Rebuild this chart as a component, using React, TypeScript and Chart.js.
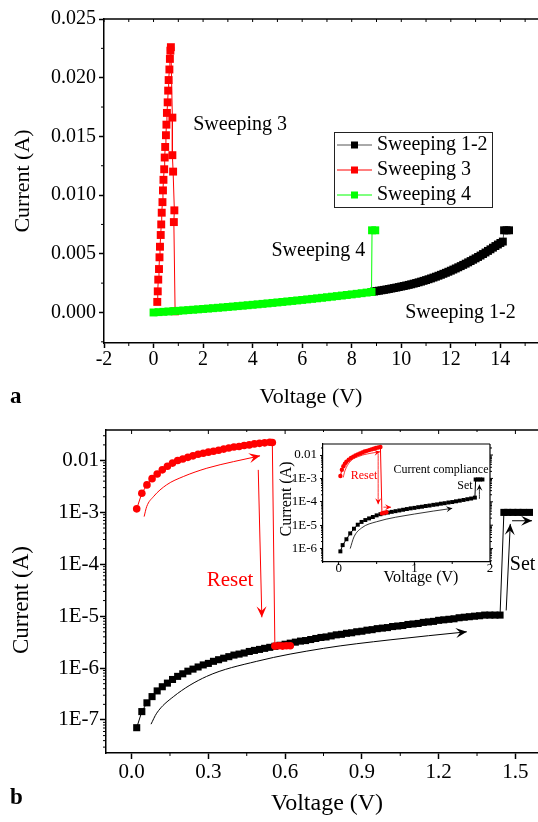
import React, { useEffect, useRef } from "react";
import { Chart, registerables } from "chart.js";

Chart.register(...registerables);

const SERIF = "'Liberation Serif', 'Times New Roman', Times, serif";
const RED = "#ff0000";
const GREEN = "#00ff00";
const BLACK = "#000000";

/* ================= Panel a (linear) ================= */
const aXTickValues = [-2, 0, 2, 4, 6, 8, 10, 12, 14];
const aXTickLabels = ["-2", "0", "2", "4", "6", "8", "10", "12", "14"];
const aXMinorValues = [-1, 1, 3, 5, 7, 9, 11, 13, 15];
const aYTickValues = [0, 0.005, 0.01, 0.015, 0.02, 0.025];
const aYTickLabels = ["0.000", "0.005", "0.010", "0.015", "0.020", "0.025"];
const aYMinorValues = [-0.0025, 0.0025, 0.0075, 0.0125, 0.0175, 0.0225];
const aSeriesNames = ["Sweeping 1-2", "Sweeping 3", "Sweeping 4"];

const sweep12V = [8.8, 8.9, 9.0, 9.1, 9.2, 9.3, 9.4, 9.5, 9.6, 9.7, 9.8, 9.9, 10.0, 10.1, 10.2, 10.3, 10.4, 10.5, 10.6, 10.7, 10.8, 10.9, 11.0, 11.1, 11.2, 11.3, 11.4, 11.5, 11.6, 11.7, 11.8, 11.9, 12.0, 12.1, 12.2, 12.3, 12.4, 12.5, 12.6, 12.7, 12.8, 12.9, 13.0, 13.1, 13.2, 13.3, 13.4, 13.5, 13.6, 13.7, 13.8, 13.9, 14.0, 14.1, 14.15, 14.25, 14.35];
const sweep12I = [0.00175, 0.001785, 0.00182, 0.001855, 0.00189, 0.001925, 0.00196, 0.002, 0.00204, 0.00208, 0.00212, 0.002165, 0.00221, 0.002255, 0.0023, 0.00235, 0.0024, 0.002455, 0.00251, 0.00257, 0.00263, 0.002695, 0.00276, 0.00283, 0.0029, 0.002975, 0.00305, 0.00313, 0.00321, 0.003295, 0.00338, 0.00347, 0.00356, 0.003655, 0.00375, 0.00385, 0.00395, 0.004055, 0.00416, 0.00427, 0.00438, 0.004495, 0.00461, 0.00473, 0.00485, 0.00498, 0.00511, 0.005245, 0.00538, 0.00552, 0.00566, 0.00579, 0.00592, 0.00604, 0.007, 0.007, 0.007];

const sweep3V = [0.15, 0.17, 0.19, 0.22, 0.24, 0.26, 0.29, 0.31, 0.33, 0.36, 0.38, 0.4, 0.43, 0.45, 0.47, 0.5, 0.52, 0.54, 0.57, 0.59, 0.61, 0.64, 0.66, 0.68, 0.7, 0.76, 0.76, 0.79, 0.84, 0.82, 0.87];
const sweep3I = [0.0009, 0.0018, 0.0028, 0.0037, 0.0047, 0.0056, 0.0066, 0.0075, 0.0085, 0.0094, 0.0104, 0.0113, 0.0122, 0.0132, 0.0141, 0.0151, 0.016, 0.017, 0.0179, 0.0189, 0.0198, 0.0207, 0.0216, 0.0223, 0.0226, 0.0166, 0.0134, 0.012, 0.0087, 0.0077, 0.0001];

const sweep4V = [0, 0.2, 0.4, 0.6, 0.8, 1.0, 1.2, 1.4, 1.6, 1.8, 2.0, 2.2, 2.4, 2.6, 2.8, 3.0, 3.2, 3.4, 3.6, 3.8, 4.0, 4.2, 4.4, 4.6, 4.8, 5.0, 5.2, 5.4, 5.6, 5.8, 6.0, 6.2, 6.4, 6.6, 6.8, 7.0, 7.2, 7.4, 7.6, 7.8, 8.0, 8.2, 8.4, 8.6, 8.8, 8.82, 8.95];
const sweep4I = [0, 0.00003, 0.000055, 0.000084, 0.000113, 0.000142, 0.000172, 0.000203, 0.000234, 0.000266, 0.000299, 0.000332, 0.000366, 0.0004, 0.000434, 0.00047, 0.000506, 0.000542, 0.000579, 0.000617, 0.000655, 0.000694, 0.000733, 0.000773, 0.000814, 0.000855, 0.000897, 0.000939, 0.000982, 0.001025, 0.001069, 0.001114, 0.001159, 0.001205, 0.001251, 0.001298, 0.001345, 0.001393, 0.001442, 0.001491, 0.001541, 0.001591, 0.001642, 0.001694, 0.001746, 0.007, 0.007];

/* ================= Panel b (log) ================= */
const bXTickValues = [0, 0.3, 0.6, 0.9, 1.2, 1.5];
const bXTickLabels = ["0.0", "0.3", "0.6", "0.9", "1.2", "1.5"];
const bXMinorValues = [0.15, 0.45, 0.75, 1.05, 1.35];
const bYTickValues = [1e-7, 1e-6, 1e-5, 1e-4, 1e-3, 1e-2];
const bYTickLabels = ["1E-7", "1E-6", "1E-5", "1E-4", "1E-3", "0.01"];

const setV = [0.02, 0.04, 0.06, 0.08, 0.1, 0.12, 0.14, 0.16, 0.18, 0.2, 0.22, 0.24, 0.26, 0.28, 0.3, 0.32, 0.34, 0.36, 0.38, 0.4, 0.42, 0.44, 0.46, 0.48, 0.5, 0.52, 0.54, 0.56, 0.58, 0.6, 0.62, 0.64, 0.66, 0.68, 0.7, 0.72, 0.74, 0.76, 0.78, 0.8, 0.82, 0.84, 0.86, 0.88, 0.9, 0.92, 0.94, 0.96, 0.98, 1.0, 1.02, 1.04, 1.06, 1.08, 1.1, 1.12, 1.14, 1.16, 1.18, 1.2, 1.22, 1.24, 1.26, 1.28, 1.3, 1.32, 1.34, 1.36, 1.38, 1.4, 1.42, 1.44, 1.455, 1.47, 1.49, 1.51, 1.53, 1.555];
const setI = [7.1e-8, 1.45e-7, 2.14e-7, 2.82e-7, 3.63e-7, 4.37e-7, 5.13e-7, 6.03e-7, 6.92e-7, 7.76e-7, 8.71e-7, 9.55e-7, 1.05e-6, 1.15e-6, 1.23e-6, 1.35e-6, 1.45e-6, 1.55e-6, 1.66e-6, 1.78e-6, 1.86e-6, 1.95e-6, 2.09e-6, 2.19e-6, 2.29e-6, 2.4e-6, 2.51e-6, 2.63e-6, 2.75e-6, 2.88e-6, 3.02e-6, 3.16e-6, 3.31e-6, 3.39e-6, 3.55e-6, 3.72e-6, 3.89e-6, 3.98e-6, 4.17e-6, 4.37e-6, 4.47e-6, 4.68e-6, 4.79e-6, 5.01e-6, 5.13e-6, 5.37e-6, 5.5e-6, 5.75e-6, 5.89e-6, 6.03e-6, 6.31e-6, 6.46e-6, 6.61e-6, 6.92e-6, 7.08e-6, 7.24e-6, 7.59e-6, 7.76e-6, 7.94e-6, 8.32e-6, 8.51e-6, 8.71e-6, 8.91e-6, 9.33e-6, 9.55e-6, 9.77e-6, 1.0e-5, 1.02e-5, 1.05e-5, 1.05e-5, 1.05e-5, 1.05e-5, 1e-3, 1e-3, 1e-3, 1e-3, 1e-3, 1e-3];

const resetV = [0.02, 0.04, 0.06, 0.08, 0.1, 0.12, 0.14, 0.16, 0.18, 0.2, 0.22, 0.24, 0.26, 0.28, 0.3, 0.32, 0.34, 0.36, 0.38, 0.4, 0.42, 0.44, 0.46, 0.48, 0.5, 0.52, 0.54, 0.55, 0.56, 0.575, 0.59, 0.605, 0.62];
const resetI = [1.17e-3, 2.34e-3, 3.39e-3, 4.47e-3, 5.5e-3, 6.61e-3, 7.76e-3, 8.91e-3, 1.0e-2, 1.07e-2, 1.15e-2, 1.23e-2, 1.32e-2, 1.38e-2, 1.45e-2, 1.51e-2, 1.58e-2, 1.66e-2, 1.74e-2, 1.82e-2, 1.86e-2, 1.95e-2, 2.0e-2, 2.09e-2, 2.14e-2, 2.19e-2, 2.24e-2, 2.22e-2, 2.65e-6, 2.7e-6, 2.65e-6, 2.7e-6, 2.7e-6];

// annotation arrows (panel b)
const bResetCurveV = [0.049, 0.059, 0.085, 0.137, 0.202, 0.294, 0.398, 0.502];
const bResetCurveI = [8.3e-4, 1.29e-3, 2.0e-3, 3.4e-3, 4.9e-3, 7.1e-3, 9.5e-3, 1.23e-2];
const bResetDropV = [0.495, 0.509];
const bResetDropI = [6.6e-3, 9.5e-6];
const bSetCurveV = [0.076, 0.098, 0.163, 0.293, 0.489, 0.75, 1.01, 1.31];
const bSetCurveI = [8.3e-8, 1.35e-7, 2.8e-7, 6.9e-7, 1.35e-6, 2.4e-6, 3.5e-6, 5.0e-6];
const bSetJumpV = [1.464, 1.48];
const bSetJumpI = [1.29e-5, 6.0e-4];
const bSetRightV = [1.487, 1.565];
const bSetRightI = [6.9e-4, 6.9e-4];

/* ================= Inset (log) ================= */
const insXTickValues = [0, 1, 2];
const insXTickLabels = ["0", "1", "2"];
const insXMinorValues = [0.5, 1.5];
const insYTickValues = [1e-6, 1e-5, 1e-4, 1e-3, 1e-2];
const insYTickLabels = ["1E-6", "1E-5", "1E-4", "1E-3", "0.01"];

const insSetV = [0.02, 0.05, 0.1, 0.15, 0.2, 0.25, 0.3, 0.35, 0.4, 0.45, 0.5, 0.55, 0.6, 0.65, 0.7, 0.75, 0.8, 0.85, 0.9, 0.95, 1.0, 1.05, 1.1, 1.15, 1.2, 1.25, 1.3, 1.35, 1.4, 1.45, 1.5, 1.55, 1.6, 1.65, 1.7, 1.75, 1.8, 1.81, 1.84, 1.87, 1.9];
const insSetI = [7.6e-7, 1.41e-6, 2.51e-6, 4.47e-6, 7.08e-6, 1.05e-5, 1.38e-5, 1.66e-5, 1.95e-5, 2.24e-5, 2.63e-5, 2.95e-5, 3.24e-5, 3.47e-5, 3.72e-5, 3.98e-5, 4.27e-5, 4.57e-5, 4.9e-5, 5.25e-5, 5.5e-5, 5.89e-5, 6.17e-5, 6.61e-5, 6.92e-5, 7.41e-5, 7.76e-5, 8.32e-5, 8.71e-5, 9.33e-5, 9.77e-5, 1.05e-4, 1.12e-4, 1.2e-4, 1.29e-4, 1.38e-4, 1.51e-4, 9e-4, 9e-4, 9e-4, 9e-4];

const insResetV = [0.02, 0.04, 0.06, 0.08, 0.1, 0.13, 0.16, 0.19, 0.22, 0.25, 0.28, 0.31, 0.34, 0.37, 0.4, 0.43, 0.46, 0.49, 0.52, 0.55, 0.57, 0.6, 0.63];
const insResetI = [1.26e-3, 2.34e-3, 3.31e-3, 4.27e-3, 5.13e-3, 6.31e-3, 7.41e-3, 8.51e-3, 9.55e-3, 1.07e-2, 1.17e-2, 1.29e-2, 1.41e-2, 1.51e-2, 1.62e-2, 1.74e-2, 1.86e-2, 2.0e-2, 2.09e-2, 2.19e-2, 3.2e-5, 3.4e-5, 3.6e-5];

const insResetCurveV = [0.057, 0.08, 0.146, 0.28, 0.41, 0.545];
const insResetCurveI = [1.1e-3, 2.1e-3, 5.1e-3, 9.1e-3, 1.17e-2, 1.38e-2];
const insResetDropV = [0.52, 0.52];
const insResetDropI = [1.17e-2, 7.9e-5];
const insResetRightV = [0.59, 0.69];
const insResetRightI = [5.9e-5, 5.9e-5];
const insSetCurveV = [0.15, 0.2, 0.3, 0.5, 1.0, 1.5];
const insSetCurveI = [1.0e-6, 3.16e-6, 7.6e-6, 1.41e-5, 3.0e-5, 5.25e-5];
const insSetJumpV = [1.86, 1.86];
const insSetJumpI = [1.32e-4, 5.4e-4];

/* ================= helpers ================= */
const pts = (xs: number[], ys: number[]) => xs.map((x, i) => ({ x, y: ys[i] }));

function seg(ctx: any, x1: number, y1: number, x2: number, y2: number) {
  ctx.beginPath();
  ctx.moveTo(x1, y1);
  ctx.lineTo(x2, y2);
  ctx.stroke();
}

function txt(ctx: any, s: string, x: number, y: number, size: number, o: any = {}) {
  ctx.save();
  ctx.font = `${o.bold ? "bold " : ""}${size}px ${SERIF}`;
  ctx.fillStyle = o.color || BLACK;
  ctx.textAlign = o.align || "center";
  ctx.textBaseline = "middle";
  ctx.translate(x, y);
  if (o.rotate) ctx.rotate(o.rotate);
  ctx.fillText(s, 0, 0);
  ctx.restore();
}

function logMinors(min: number, max: number) {
  const out: number[] = [];
  for (let d = Math.floor(Math.log10(min)); d <= Math.ceil(Math.log10(max)); d++) {
    for (let k = 2; k <= 9; k++) {
      const v = k * Math.pow(10, d);
      if (v >= min && v <= max) out.push(v);
    }
  }
  return out;
}

function drawHead(ctx: any, tx: number, ty: number, dx: number, dy: number, len: number, half: number, color: string) {
  const L = Math.hypot(dx, dy) || 1;
  const ux = dx / L, uy = dy / L;
  const px = -uy, py = ux;
  const bx = tx - ux * len, by = ty - uy * len;
  ctx.save();
  ctx.fillStyle = color;
  ctx.beginPath();
  ctx.moveTo(tx, ty);
  ctx.lineTo(bx + px * half, by + py * half);
  ctx.lineTo(tx - ux * len * 0.6, ty - uy * len * 0.6);
  ctx.lineTo(bx - px * half, by - py * half);
  ctx.closePath();
  ctx.fill();
  ctx.restore();
}

const arrowPlugin = {
  id: "arrowHeads",
  afterDatasetsDraw(chart: any) {
    const ctx = chart.ctx;
    chart.data.datasets.forEach((ds: any, i: number) => {
      if (!ds.arrowHead) return;
      const p = chart.getDatasetMeta(i).data;
      if (p.length < 2) return;
      const b = p[p.length - 1];
      const a = p[p.length - 2];
      let dx = b.x - a.x, dy = b.y - a.y;
      if (b.cp1x !== undefined && Math.hypot(b.x - b.cp1x, b.y - b.cp1y) > 0.5) {
        dx = b.x - b.cp1x;
        dy = b.y - b.cp1y;
      }
      drawHead(ctx, b.x, b.y, dx, dy, ds.arrowHead.len, ds.arrowHead.half, ds.borderColor);
    });
  },
};

const dataSet = (label: string, d: any[], line: string, fill: string, style: string, r: number) => ({
  label,
  data: d,
  borderColor: line,
  backgroundColor: fill,
  borderWidth: 1,
  pointStyle: style,
  pointRadius: r,
  pointBorderWidth: 0,
  pointBackgroundColor: fill,
  pointHoverRadius: r,
  fill: false,
});

const arrowSet = (d: any[], color: string, w: number, head: any) => ({
  label: "",
  data: d,
  borderColor: color,
  borderWidth: w,
  pointRadius: 0,
  pointHoverRadius: 0,
  cubicInterpolationMode: "monotone",
  fill: false,
  arrowHead: head,
});

const axisCommon = (size: number, pad: number, tickLen: number, lw: number) => ({
  grid: { display: true, drawOnChartArea: false, drawTicks: true, tickLength: tickLen, tickWidth: lw, tickColor: BLACK },
  border: { display: true, color: BLACK, width: lw },
  ticks: { autoSkip: false, maxRotation: 0, minRotation: 0, color: BLACK, padding: pad, font: { family: SERIF, size, lineHeight: 1.2 } },
});

const fixX = (h: number) => (s: any) => {
  s.height = h;
  s.paddingLeft = 0;
  s.paddingRight = 0;
};
const fixY = (w: number) => (s: any) => {
  s.width = w;
  s.paddingTop = 0;
  s.paddingBottom = 0;
};

const baseOptions = (pad: any) => ({
  responsive: false,
  animation: false,
  devicePixelRatio: 1,
  events: [],
  layout: { autoPadding: false, padding: pad },
  plugins: { legend: { display: false }, tooltip: { enabled: false } },
});

/* ================= Panel a chart ================= */
const panelAPlugin = {
  id: "panelA",
  afterDraw(chart: any) {
    const { ctx, chartArea: ca, scales } = chart;
    const x = scales.x, y = scales.y;
    ctx.save();
    ctx.strokeStyle = BLACK;
    ctx.lineWidth = 1.5;
    seg(ctx, ca.left, ca.top, ca.right, ca.top);
    ctx.lineWidth = 1;
    for (const v of [...aXTickValues, ...aXMinorValues]) {
      const px = x.getPixelForValue(v);
      seg(ctx, px, ca.top, px, ca.top + 3);
    }
    for (const v of aXMinorValues) {
      const px = x.getPixelForValue(v);
      seg(ctx, px, ca.bottom, px, ca.bottom + 3);
    }
    for (const v of aYMinorValues) {
      const py = y.getPixelForValue(v);
      seg(ctx, ca.left - 3, py, ca.left, py);
    }
    // legend
    const lx = 334, ly = 132, lw = 158, lh = 75;
    ctx.strokeStyle = "#222";
    ctx.lineWidth = 1;
    ctx.strokeRect(lx + 0.5, ly + 0.5, lw, lh);
    const rows = [145, 170, 195];
    const lineCols = ["#555555", RED, GREEN];
    const markCols = [BLACK, RED, GREEN];
    rows.forEach((ry, i) => {
      ctx.strokeStyle = lineCols[i];
      seg(ctx, lx + 3, ry, lx + 38, ry);
      ctx.fillStyle = markCols[i];
      ctx.fillRect(lx + 17, ry - 3.5, 7, 7);
      txt(ctx, aSeriesNames[i], lx + 43, ry, 20, { align: "left" });
    });
    // annotations
    txt(ctx, "Sweeping 3", x.getPixelForValue(1.6), y.getPixelForValue(0.016), 20, { align: "left" });
    txt(ctx, "Sweeping 4", x.getPixelForValue(8.55), y.getPixelForValue(0.00525), 20, { align: "right" });
    txt(ctx, "Sweeping 1-2", x.getPixelForValue(10.16), y.getPixelForValue(0.0), 20, { align: "left" });
    // titles
    txt(ctx, "Current (A)", 23, 181, 22, { rotate: -Math.PI / 2 });
    txt(ctx, "Voltage (V)", 311, 397, 22);
    txt(ctx, "a", 10, 397, 23, { bold: true, align: "left" });
    ctx.restore();
  },
};

function makeA(canvas: HTMLCanvasElement) {
  const ax = axisCommon(20, 0, 5, 1.5);
  const ay = axisCommon(20, 3, 5, 1.5);
  return new Chart(canvas, {
    type: "line",
    data: {
      datasets: [
        dataSet(aSeriesNames[2], pts(sweep4V, sweep4I), GREEN, GREEN, "rect", 5.6),
        dataSet(aSeriesNames[1], pts(sweep3V, sweep3I), RED, RED, "rect", 5.6),
        dataSet(aSeriesNames[0], pts(sweep12V, sweep12I), "#555555", BLACK, "rect", 5.6),
      ] as any,
    },
    options: {
      ...baseOptions({ top: 19, left: 0, right: 0, bottom: 0 }),
      scales: {
        x: {
          type: "linear",
          min: -2,
          max: 15.6,
          ...ax,
          ticks: { ...ax.ticks, callback: (_v: any, i: number) => aXTickLabels[i] },
          afterBuildTicks: (s: any) => { s.ticks = aXTickValues.map((v) => ({ value: v })); },
          afterFit: fixX(72),
        },
        y: {
          type: "linear",
          min: -0.0026,
          max: 0.025,
          ...ay,
          ticks: { ...ay.ticks, callback: (_v: any, i: number) => aYTickLabels[i] },
          afterBuildTicks: (s: any) => { s.ticks = aYTickValues.map((v) => ({ value: v })); },
          afterFit: fixY(104),
        },
      },
    } as any,
    plugins: [arrowPlugin, panelAPlugin],
  });
}

/* ================= Panel b chart ================= */
const panelBPlugin = {
  id: "panelB",
  afterDraw(chart: any) {
    const { ctx, chartArea: ca, scales } = chart;
    const x = scales.x, y = scales.y;
    ctx.save();
    ctx.strokeStyle = BLACK;
    ctx.lineWidth = 1.5;
    seg(ctx, ca.left, ca.top, ca.right, ca.top);
    ctx.lineWidth = 1;
    for (const v of bXTickValues) {
      const px = x.getPixelForValue(v);
      seg(ctx, px, ca.top, px, ca.top + 4);
    }
    for (const v of bXMinorValues) {
      const px = x.getPixelForValue(v);
      seg(ctx, px, ca.bottom, px, ca.bottom + 3);
      seg(ctx, px, ca.top, px, ca.top + 2);
    }
    for (const v of logMinors(y.min, y.max)) {
      const py = y.getPixelForValue(v);
      seg(ctx, ca.left - 3, py, ca.left, py);
    }
    txt(ctx, "Reset", x.getPixelForValue(0.385), y.getPixelForValue(4.8e-5), 21, { color: RED });
    txt(ctx, "Set", x.getPixelForValue(1.478), y.getPixelForValue(9.7e-5), 20, { align: "left" });
    txt(ctx, "Current (A)", 22, 185, 23, { rotate: -Math.PI / 2 });
    txt(ctx, "Voltage (V)", 327, 389, 24);
    txt(ctx, "b", 10, 383, 23, { bold: true, align: "left" });
    ctx.restore();
  },
};

function makeB(canvas: HTMLCanvasElement) {
  const ax = axisCommon(21, 1, 6, 1.5);
  const ay = axisCommon(21, 1, 6, 1.5);
  const head = { len: 11, half: 5 };
  return new Chart(canvas, {
    type: "line",
    data: {
      datasets: [
        arrowSet(pts(bResetCurveV, bResetCurveI), RED, 1, head),
        arrowSet(pts(bResetDropV, bResetDropI), RED, 1, head),
        arrowSet(pts(bSetCurveV, bSetCurveI), BLACK, 1, head),
        arrowSet(pts(bSetJumpV, bSetJumpI), BLACK, 1, head),
        arrowSet(pts(bSetRightV, bSetRightI), BLACK, 1, head),
        dataSet("Reset", pts(resetV, resetI), RED, RED, "circle", 3.8),
        dataSet("Set", pts(setV, setI), BLACK, BLACK, "rect", 5),
      ] as any,
    },
    options: {
      ...baseOptions({ top: 15, left: 0, right: 0, bottom: 0 }),
      scales: {
        x: {
          type: "linear",
          min: -0.1,
          max: 1.6,
          ...ax,
          ticks: { ...ax.ticks, callback: (_v: any, i: number) => bXTickLabels[i] },
          afterBuildTicks: (s: any) => { s.ticks = bXTickValues.map((v) => ({ value: v })); },
          afterFit: fixX(69),
        },
        y: {
          type: "logarithmic",
          min: 2.31e-8,
          max: 0.0387,
          bounds: "data",
          ...ay,
          ticks: { ...ay.ticks, callback: (_v: any, i: number) => bYTickLabels[i] },
          afterBuildTicks: (s: any) => { s.ticks = bYTickValues.map((v) => ({ value: v })); },
          afterFit: fixY(106),
        },
      },
    } as any,
    plugins: [arrowPlugin, panelBPlugin],
  });
}

/* ================= Inset chart ================= */
const insetPlugin = {
  id: "inset",
  afterDraw(chart: any) {
    const { ctx, chartArea: ca, scales } = chart;
    const x = scales.x, y = scales.y;
    ctx.save();
    ctx.strokeStyle = BLACK;
    ctx.lineWidth = 1.2;
    seg(ctx, ca.left, ca.top, ca.right, ca.top);
    seg(ctx, ca.right, ca.top, ca.right, ca.bottom);
    ctx.lineWidth = 1;
    for (const v of insYTickValues) {
      const py = y.getPixelForValue(v);
      seg(ctx, ca.right, py, ca.right + 3, py);
    }
    for (const v of logMinors(y.min, y.max)) {
      const py = y.getPixelForValue(v);
      seg(ctx, ca.left - 2, py, ca.left, py);
      seg(ctx, ca.right, py, ca.right + 2, py);
    }
    for (const v of insXMinorValues) {
      const px = x.getPixelForValue(v);
      seg(ctx, px, ca.bottom, px, ca.bottom + 2);
    }
    txt(ctx, "Current compliance", 163, 38, 12);
    txt(ctx, "Set", 187, 54, 12);
    txt(ctx, "Reset", 86, 44, 12, { color: RED });
    txt(ctx, "Current (A)", 9, 67, 16, { rotate: -Math.PI / 2 });
    txt(ctx, "Voltage (V)", 143, 146, 16);
    ctx.restore();
  },
};

function makeInset(canvas: HTMLCanvasElement) {
  const ax = axisCommon(13, -3, 3, 1.2);
  const ay = axisCommon(13, 3, 3, 1.2);
  const head = { len: 6, half: 3 };
  return new Chart(canvas, {
    type: "line",
    data: {
      datasets: [
        arrowSet(pts(insResetCurveV, insResetCurveI), RED, 0.8, head),
        arrowSet(pts(insResetDropV, insResetDropI), RED, 0.8, head),
        arrowSet(pts(insResetRightV, insResetRightI), RED, 0.8, head),
        arrowSet(pts(insSetCurveV, insSetCurveI), BLACK, 0.8, head),
        arrowSet(pts(insSetJumpV, insSetJumpI), BLACK, 0.8, head),
        dataSet("Reset", pts(insResetV, insResetI), RED, RED, "circle", 2.2),
        dataSet("Set", pts(insSetV, insSetI), BLACK, BLACK, "rect", 2.8),
      ] as any,
    },
    options: {
      ...baseOptions({ top: 12, left: 0, right: 6, bottom: 0 }),
      scales: {
        x: {
          type: "linear",
          min: -0.21,
          max: 2.0,
          ...ax,
          ticks: { ...ax.ticks, font: { family: SERIF, size: 13, lineHeight: 1 }, callback: (_v: any, i: number) => insXTickLabels[i] },
          afterBuildTicks: (s: any) => { s.ticks = insXTickValues.map((v) => ({ value: v })); },
          afterFit: fixX(26),
        },
        y: {
          type: "logarithmic",
          min: 2.67e-7,
          max: 0.0296,
          bounds: "data",
          ...ay,
          ticks: { ...ay.ticks, font: { family: SERIF, size: 13, lineHeight: 1 }, callback: (_v: any, i: number) => insYTickLabels[i] },
          afterBuildTicks: (s: any) => { s.ticks = insYTickValues.map((v) => ({ value: v })); },
          afterFit: fixY(45),
        },
      },
    } as any,
    plugins: [arrowPlugin, insetPlugin],
  });
}

export default function App() {
  const aRef = useRef<HTMLCanvasElement>(null);
  const bRef = useRef<HTMLCanvasElement>(null);
  const cRef = useRef<HTMLCanvasElement>(null);

  useEffect(() => {
    const charts = [makeA(aRef.current!), makeB(bRef.current!), makeInset(cRef.current!)];
    return () => charts.forEach((c) => c.destroy());
  }, []);

  return (
    <div style={{ position: "absolute", left: 0, top: 0, width: 538, height: 822, overflow: "hidden", background: "#fff" }}>
      <canvas ref={aRef} width={540} height={415} style={{ position: "absolute", left: 0, top: 0, width: 540, height: 415 }} />
      <canvas ref={bRef} width={541} height={407} style={{ position: "absolute", left: 0, top: 415, width: 541, height: 407 }} />
      <canvas ref={cRef} width={218} height={156} style={{ position: "absolute", left: 278, top: 432, width: 218, height: 156 }} />
    </div>
  );
}
